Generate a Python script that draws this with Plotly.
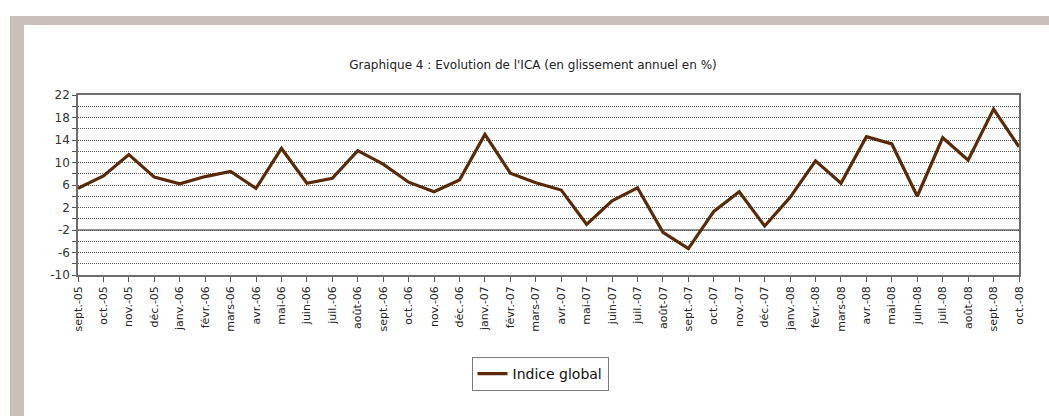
import plotly.graph_objects as go

months = ["sept.-05", "oct.-05", "nov.-05", "déc.-05",
          "janv.-06", "févr.-06", "mars-06", "avr.-06", "mai-06", "juin-06",
          "juil.-06", "août-06", "sept.-06", "oct.-06", "nov.-06", "déc.-06",
          "janv.-07", "févr.-07", "mars-07", "avr.-07", "mai-07", "juin-07",
          "juil.-07", "août-07", "sept.-07", "oct.-07", "nov.-07", "déc.-07",
          "janv.-08", "févr.-08", "mars-08", "avr.-08", "mai-08", "juin-08",
          "juil.-08", "août-08", "sept.-08", "oct.-08"]

indice_global = [5.4, 7.6, 11.4, 7.4,
                 6.2, 7.5, 8.4, 5.4, 12.5, 6.3,
                 7.2, 12.1, 9.7, 6.5, 4.8, 6.9,
                 15.0, 8.1, 6.4, 5.1, -1.0, 3.2,
                 5.5, -2.4, -5.3, 1.3, 4.8, -1.3,
                 3.8, 10.3, 6.3, 14.6, 13.3, 4.0,
                 14.4, 10.4, 19.5, 12.8]

y_tick_vals = [-10, -6, -2, 2, 6, 10, 14, 18, 22]
y_tick_text = ["-10", "-6", "-2", "2", "6", "10", "14", "18", "22"]

title_text = "Graphique 4 : Evolution de l'ICA (en glissement annuel en %)"
series_name = "Indice global"

W, H = 1049, 416
L, R, T, B = 78, 30, 95, 141
pw = W - L - R
ph = H - T - B

def px(x):
    return (x - L) / pw

def py(y):
    return (H - B - y) / ph

fig = go.Figure()
fig.add_trace(go.Scatter(
    x=months, y=indice_global, mode="lines", name=series_name,
    line=dict(color="#5a2a08", width=3.2),
))

band = "#C9C0BC"
shapes = [
    dict(type="rect", xref="paper", yref="paper", x0=px(10), x1=px(1049), y0=py(16), y1=py(25),
         fillcolor=band, line=dict(width=0), layer="below"),
    dict(type="rect", xref="paper", yref="paper", x0=px(10), x1=px(24), y0=py(25), y1=py(416),
         fillcolor=band, line=dict(width=0), layer="below"),
    dict(type="line", xref="paper", yref="y", x0=0, x1=1, y0=-2, y1=-2,
         line=dict(color="#6e6e6e", width=1.6), layer="below"),
]

fig.update_layout(
    width=W, height=H,
    margin=dict(l=L, r=R, t=T, b=B),
    paper_bgcolor="white", plot_bgcolor="white",
    font=dict(family="DejaVu Sans, Liberation Sans, sans-serif", color="#222"),
    title=dict(text=title_text, x=533 / W, xanchor="center", y=1 - 65 / H, yanchor="middle",
               font=dict(size=12, color="#222")),
    showlegend=True,
    legend=dict(orientation="h", x=px(540), xanchor="center", y=py(357), yanchor="top",
                bordercolor="#7a7a7a", borderwidth=1, bgcolor="white",
                font=dict(size=14, color="#111")),
    shapes=shapes,
)

fig.update_xaxes(
    type="category", range=[0, len(months) - 1],
    showline=True, linecolor="#6e6e6e", linewidth=1.5, mirror=True,
    ticks="outside", ticklen=5, tickcolor="#555", tickwidth=1,
    tickangle=-90, tickfont=dict(size=11, color="#222"),
    showgrid=False, zeroline=False,
)

fig.update_yaxes(
    range=[-10, 22], tickmode="array", tickvals=y_tick_vals, ticktext=y_tick_text,
    showline=True, linecolor="#6e6e6e", linewidth=1.5, mirror=True,
    ticks="outside", ticklen=4, tickcolor="#555",
    tickfont=dict(size=12, color="#333"),
    showgrid=True, gridcolor="#555", griddash="1px,1px", gridwidth=1,
    minor=dict(dtick=2, tick0=-10, showgrid=True, gridcolor="#555", griddash="1px,1px",
               ticks="outside", ticklen=4, tickcolor="#555"),
    zeroline=False,
)

fig.write_html("out.html", config={"displayModeBar": False},
               post_script="document.body.style.margin='0';document.body.style.padding='0';document.body.style.overflow='hidden';")
